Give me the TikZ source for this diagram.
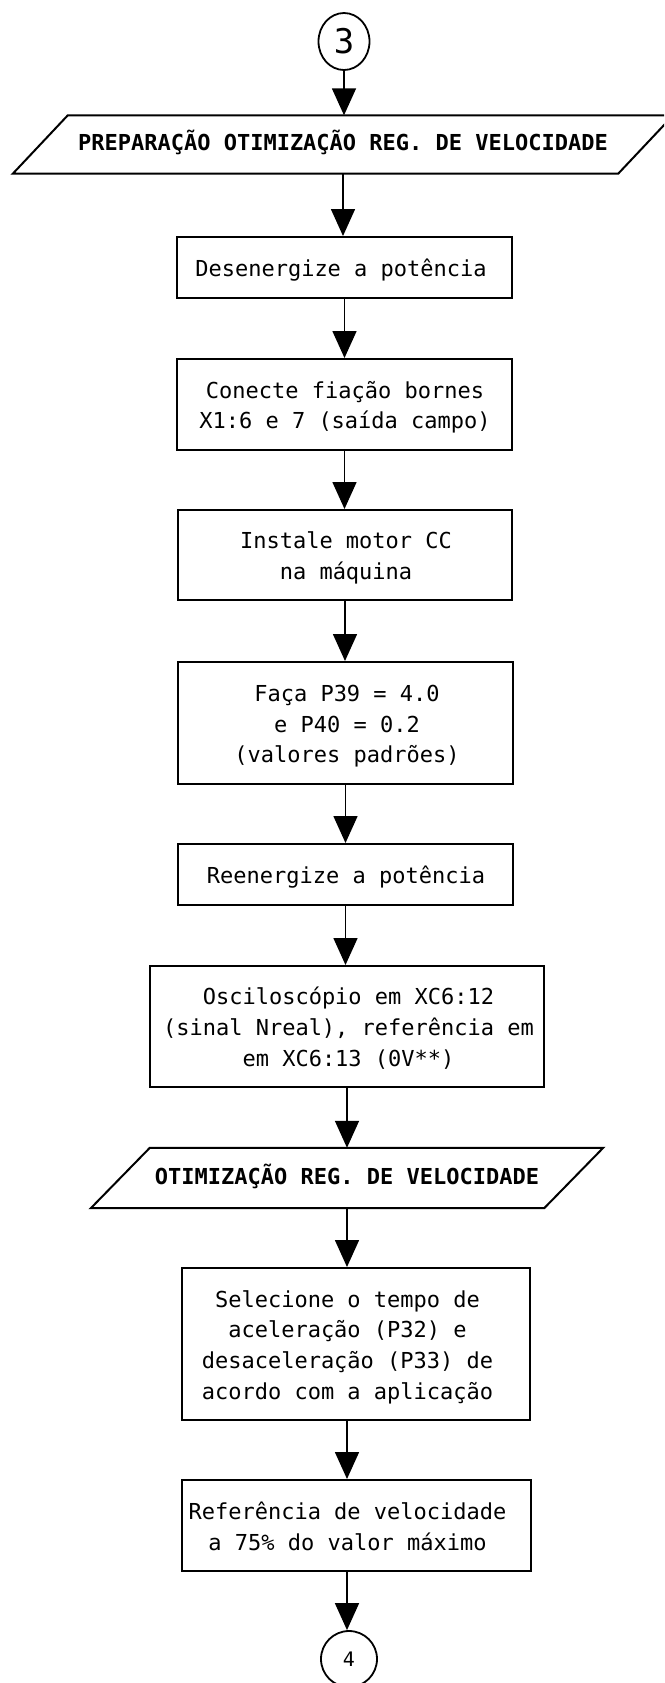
\documentclass[tikz,border=0pt]{standalone}
\usepackage{fontspec}
\newfontfamily\plotfont{DejaVu Sans Mono}
\usetikzlibrary{arrows.meta,shapes.geometric}
\begin{document}
\begin{tikzpicture}[x=1pt,y=-1pt,
  boxn/.style={draw, line width=2pt, rectangle, inner sep=0pt},
  txt/.style={inner sep=0pt, font=\plotfont\fontsize{22}{30.7}\selectfont},
  ttl/.style={inner sep=0pt, font=\plotfont\bfseries\fontsize{22}{30.7}\selectfont},
  pline/.style={line width=2pt, line join=miter},
  conn/.style={draw, ellipse, line width=1.8pt, inner sep=0pt},
  arr/.style={line width=1.6pt, -{Triangle[width=24pt,length=27pt]}}]
\useasboundingbox (0,0) rectangle (664,1683);
\fill[white] (0,0) rectangle (664,1683);
\clip (0,0) rectangle (664,1683);
\coordinate (ax) at (347,0);

% connectors
\node[conn, minimum width=51pt, minimum height=57pt, font=\plotfont\fontsize{34}{40}\selectfont] (c3) at (344,41.5) {3};

\node[ttl, minimum width=605pt, minimum height=58pt] (p1) at (343,144.5)
  {\begin{tabular}{@{}c@{}}PREPARAÇÃO OTIMIZAÇÃO REG. DE VELOCIDADE\end{tabular}};
\draw[pline] ([xshift=27.5pt]p1.north west) -- ([xshift=27.5pt]p1.north east)
  -- ([xshift=-27.5pt]p1.south east) -- ([xshift=-27.5pt]p1.south west) -- cycle;

\node[boxn, minimum width=335pt, minimum height=61pt] (b1) at (344.5,267.5) {};
\node[txt] (t1) at (341,270.5) {\begin{tabular}{@{}c@{}}Desenergize a potência\end{tabular}};

\node[boxn, minimum width=335pt, minimum height=91pt] (b2) at (344.5,404.5) {};
\node[txt] (t2) at (345,407.5) {\begin{tabular}{@{}c@{}}Conecte fiação bornes\\X1:6 e 7 (saída campo)\end{tabular}};

\node[boxn, minimum width=334pt, minimum height=90pt] (b3) at (345,555) {};
\node[txt] (t3) at (346,558) {\begin{tabular}{@{}c@{}}Instale motor CC\\na máquina\end{tabular}};

\node[boxn, minimum width=335pt, minimum height=122pt] (b4) at (345.5,723) {};
\node[txt] (t4) at (347,726) {\begin{tabular}{@{}c@{}}Faça P39 = 4.0\\e P40 = 0.2\\(valores padrões)\end{tabular}};

\node[boxn, minimum width=335pt, minimum height=61pt] (b5) at (345.5,874.5) {};
\node[txt] (t5) at (346,877.5) {\begin{tabular}{@{}c@{}}Reenergize a potência\end{tabular}};

\node[boxn, minimum width=394pt, minimum height=121pt] (b6) at (347,1026.5) {};
\node[txt] (t6) at (348.5,1029.5) {\begin{tabular}{@{}c@{}}Osciloscópio em XC6:12\\(sinal Nreal), referência em\\em XC6:13 (0V**)\end{tabular}};

\node[ttl, minimum width=453pt, minimum height=60pt] (p2) at (347,1178)
  {\begin{tabular}{@{}c@{}}OTIMIZAÇÃO REG. DE VELOCIDADE\end{tabular}};
\draw[pline] ([xshift=29.5pt]p2.north west) -- ([xshift=29.5pt]p2.north east)
  -- ([xshift=-29.5pt]p2.south east) -- ([xshift=-29.5pt]p2.south west) -- cycle;

\node[boxn, minimum width=348pt, minimum height=152pt] (b7) at (356,1344) {};
\node[txt] (t7) at (347.5,1347) {\begin{tabular}{@{}c@{}}Selecione o tempo de\\aceleração (P32) e\\desaceleração (P33) de\\acordo com a aplicação\end{tabular}};

\node[boxn, minimum width=349pt, minimum height=91pt] (b8) at (356.5,1525.5) {};
\node[txt] (t8) at (347.5,1528.5) {\begin{tabular}{@{}c@{}}Referência de velocidade\\a 75\% do valor máximo\end{tabular}};

\node[conn, minimum width=56pt, minimum height=56pt, font=\plotfont\fontsize{20}{24}\selectfont] (c4) at (349,1659) {4};

% arrows
\draw[arr] (c3.south) -- (c3.south |- p1.north);
\draw[arr] (p1.south) -- (p1.south |- b1.north);
\draw[arr] (b1.south) -- (b1.south |- b2.north);
\draw[arr] (b2.south) -- (b2.south |- b3.north);
\draw[arr] (b3.south) -- (b3.south |- b4.north);
\draw[arr] (b4.south) -- (b4.south |- b5.north);
\draw[arr] (b5.south) -- (b5.south |- b6.north);
\draw[arr] (b6.south -| ax) -- (p2.north -| ax);
\draw[arr] (p2.south -| ax) -- (b7.north -| ax);
\draw[arr] (b7.south -| ax) -- (b8.north -| ax);
\draw[arr] (b8.south -| ax) -- (c4.north -| ax);
\end{tikzpicture}
\end{document}
